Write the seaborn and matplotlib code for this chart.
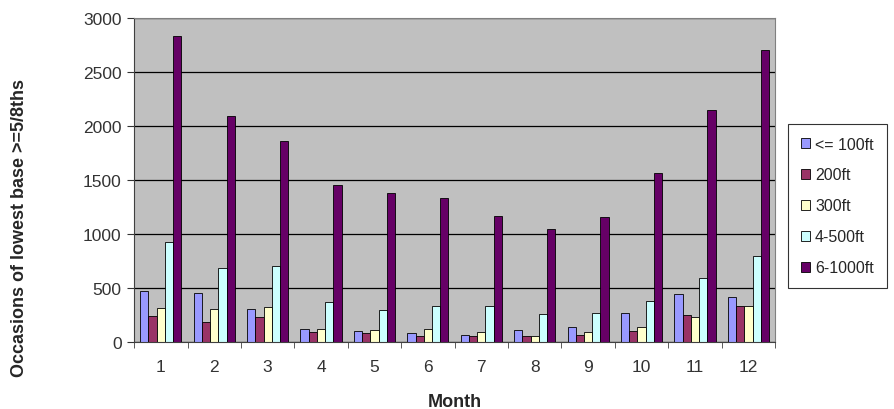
import pandas as pd
import seaborn as sns
import matplotlib.pyplot as plt
from matplotlib.ticker import FixedLocator

# cloud base occurrences by month
months = list(range(1, 13))
bases = ['<= 100ft', '200ft', '300ft', '4-500ft', '6-1000ft']
le_100 = [475, 455, 305, 120, 100, 85, 65, 110, 140, 270, 445, 415]
ft_200 = [240, 185, 230, 95, 85, 60, 60, 60, 70, 100, 250, 335]
ft_300 = [320, 305, 325, 125, 110, 125, 95, 55, 95, 140, 230, 335]
ft_4_500 = [925, 690, 705, 370, 295, 335, 330, 260, 270, 380, 590, 795]
ft_6_1000 = [2830, 2090, 1860, 1450, 1380, 1330, 1165, 1050, 1155, 1565, 2150, 2700]
colours = ['#9999FF', '#993366', '#FFFFCC', '#CCFFFF', '#660066']

series = [le_100, ft_200, ft_300, ft_4_500, ft_6_1000]
rows = []
for name, vals in zip(bases, series):
    for m, v in zip(months, vals):
        rows.append({'Month': m, 'Base': name, 'Occasions': v})
df = pd.DataFrame(rows)

sns.set_style('white')
plt.rcParams['font.family'] = ['Liberation Sans', 'DejaVu Sans']

fig = plt.figure(figsize=(8.94, 4.10), dpi=100)
ax = fig.add_axes([0.150, 0.163, 0.717, 0.791])
ax.set_facecolor('#C0C0C0')

sns.barplot(data=df, x='Month', y='Occasions', hue='Base', hue_order=bases,
            palette=colours, edgecolor='black', linewidth=0.6, width=0.77,
            saturation=1, ax=ax)

ax.set_ylim(0, 3000)
ax.set_xlim(-0.5, 11.5)
ax.set_yticks(range(0, 3001, 500))
ax.yaxis.grid(True, color='black', linewidth=0.9)
ax.set_axisbelow(True)
for s in ['top', 'right']:
    ax.spines[s].set_color('#808080')
for s in ['left', 'bottom']:
    ax.spines[s].set_color('#404040')

ax.tick_params(axis='y', direction='out', length=5, labelsize=12.5, colors='#333333',
               left=True, pad=4)
ax.tick_params(axis='x', which='major', length=0, labelsize=12.5, pad=12, colors='#333333')
ax.xaxis.set_minor_locator(FixedLocator([i - 0.5 for i in range(13)]))
ax.tick_params(axis='x', which='minor', direction='out', length=4, bottom=True, color='#404040')

ax.set_xlabel('Month', fontsize=13, fontweight='bold', labelpad=14)
ax.set_ylabel('Occasions of lowest base >=5/8ths', fontsize=13, fontweight='bold')
ax.yaxis.set_label_coords(-0.165, 0.355)

leg = ax.legend(loc='center left', bbox_to_anchor=(1.02, 0.42), frameon=True,
                fancybox=False, edgecolor='black', fontsize=11.5,
                handlelength=0.6, handleheight=0.6, handletextpad=0.3,
                labelspacing=1.0, borderpad=0.8, borderaxespad=0)
leg.get_frame().set_linewidth(0.8)

fig.savefig('out.png', dpi=100)
